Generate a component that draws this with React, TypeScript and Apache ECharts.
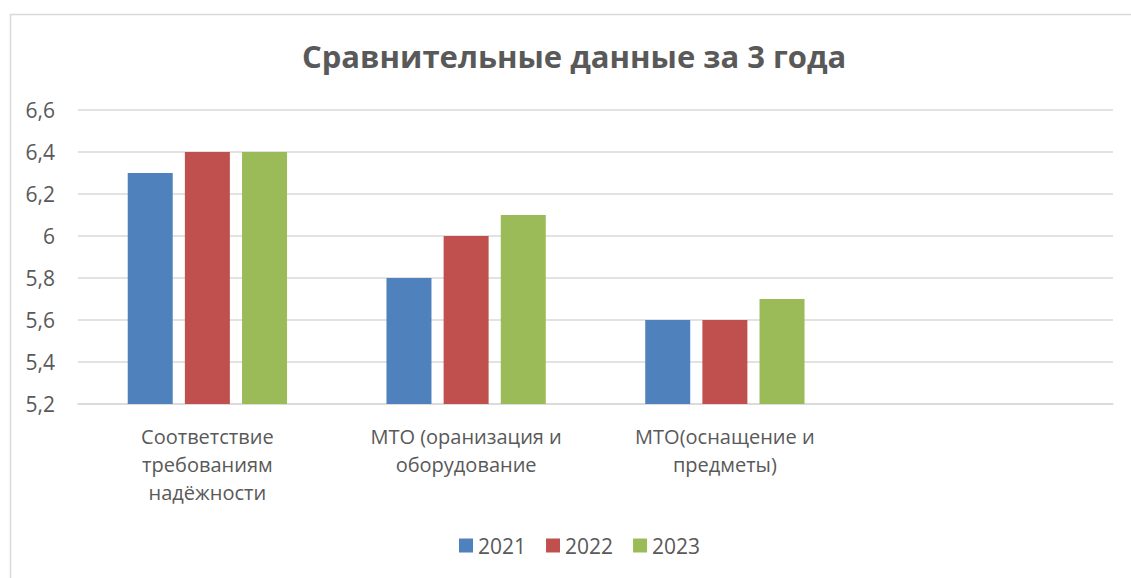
import React, { useEffect, useRef } from "react";
import * as echarts from "echarts";

const categories = [
  "Соответствие\nтребованиям\nнадёжности",
  "МТО (оранизация и\nоборудование",
  "МТО(оснащение и\nпредметы)",
  "",
];
const seriesNames = ["2021", "2022", "2023"];
const values2021 = [6.3, 5.8, 5.6, null];
const values2022 = [6.4, 6.0, 5.6, null];
const values2023 = [6.4, 6.1, 5.7, null];
const colors = ["#4F81BD", "#C0504D", "#9BBB59"];
const titleText = "Сравнительные данные за 3 года";

export default function App() {
  const ref = useRef<HTMLDivElement>(null);
  useEffect(() => {
    if (!ref.current) return;
    const chart = echarts.init(ref.current, null, { renderer: "svg" });
    const font = "'Open Sans', 'Noto Sans', sans-serif";
    const data = [values2021, values2022, values2023];
    chart.setOption({
      animation: false,
      backgroundColor: "#ffffff",
      textStyle: { fontFamily: font },
      graphic: [
        {
          type: "rect",
          left: 8,
          top: 12,
          shape: { width: 1200, height: 700 },
          style: { fill: "none", stroke: "#d9d9d9", lineWidth: 1.5 },
          silent: true,
        },
      ],
      title: {
        text: titleText,
        left: 297,
        top: 35,
        textStyle: { fontFamily: font, fontSize: 31, fontWeight: "bold", color: "#595959" },
      },
      legend: {
        bottom: 17,
        left: 454,
        itemWidth: 14,
        itemHeight: 14,
        itemGap: 20,
        icon: "rect",
        textStyle: { fontFamily: font, fontSize: 21, color: "#595959" },
        data: seriesNames,
      },
      grid: { left: 78, right: 18, top: 110, bottom: 174, containLabel: false },
      xAxis: {
        type: "category",
        data: categories,
        axisLine: { lineStyle: { color: "#d9d9d9", width: 1.5 } },
        axisTick: { show: false },
        axisLabel: {
          interval: 0,
          margin: 18,
          fontFamily: font,
          fontSize: 20,
          lineHeight: 28,
          color: "#595959",
        },
      },
      yAxis: {
        type: "value",
        min: 5.2,
        max: 6.6,
        interval: 0.2,
        axisLine: { show: false },
        axisTick: { show: false },
        splitLine: { lineStyle: { color: "#d9d9d9", width: 1.5 } },
        axisLabel: {
          margin: 23,
          fontFamily: font,
          fontSize: 21,
          color: "#595959",
          formatter: (v: number) => String(Math.round(v * 10) / 10).replace(".", ","),
        },
      },
      series: seriesNames.map((name, i) => ({
        name,
        type: "bar",
        data: data[i],
        barWidth: 45,
        barGap: "27%",
        itemStyle: { color: colors[i] },
      })),
    });
    return () => chart.dispose();
  }, []);
  return (
    <div
      ref={ref}
      style={{ position: "fixed", left: 0, top: 0, width: 1131, height: 578 }}
    />
  );
}
